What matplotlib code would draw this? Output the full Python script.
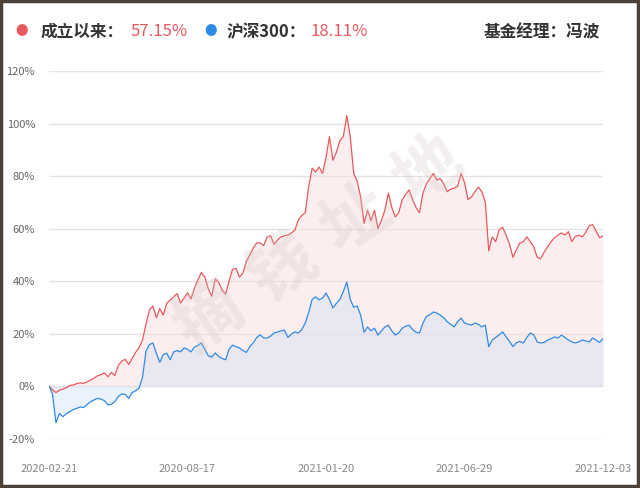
import matplotlib
matplotlib.use("Agg")
import matplotlib.pyplot as plt
from matplotlib.patches import Rectangle

plt.rcParams['font.family'] = ['Noto Sans CJK SC', 'DejaVu Sans']

# x-axis labels (category axis, shown at every 40th point)
tick_labels = ['2020-02-21', '2020-08-17', '2021-01-20', '2021-06-29', '2021-12-03']

# cumulative return of the fund since inception (%)
fund = [0, -1.5, -2.5, -1.6, -1.2, -0.6, 0.2, 0.4, 0.9, 1.2,
        1.0, 1.6, 2.3, 3.0, 3.9, 4.3, 5.0, 3.5, 5.2, 4.0,
        7.8, 9.5, 10.2, 8.2, 10.5, 12.8, 14.6, 17.5, 23.5, 29,
        30.5, 26, 29.5, 27, 31.5, 32.8, 34, 35.2, 31.6, 33.5,
        35.5, 33.2, 37.2, 40.5, 43.2, 41.5, 37, 34.2, 40.8, 39.5,
        36.5, 35, 40, 44.5, 44.8, 41.5, 43, 47.5, 50, 52.6,
        54.5, 54.5, 53.5, 56.8, 57.2, 54, 55.6, 56.8, 57.2, 57.5,
        58.3, 59.4, 63.2, 65, 66, 76, 83, 81.5, 83.4, 81,
        87, 95, 86, 89, 93.5, 95, 103, 95, 81, 78,
        72, 62, 67, 63, 67, 60, 63, 67, 73.5, 68,
        64.4, 66, 71, 73, 74.7, 71, 68, 66, 73.5, 77,
        79, 81, 78.5, 79, 77, 74, 75, 75.4, 76, 81,
        77.5, 71, 72, 74, 75.8, 74, 70, 51.5, 56.8, 55,
        59.5, 60.5, 57.5, 54, 49, 52, 54.5, 55, 56.8, 55,
        53, 49, 48.5, 51, 53, 55, 56.5, 57.5, 58.3, 57.5,
        58.8, 55, 57, 57.5, 56.8, 58.5, 61, 61.5, 59, 56.5,
        57.15]

# CSI 300 over the same period (%)
hs300 = [0, -3, -14, -10.5, -11.7, -10.5, -9.8, -9, -8.5, -8,
         -8.2, -7, -6, -5.3, -4.7, -5, -5.6, -7.2, -7, -6,
         -4, -3, -3.2, -4.7, -2.5, -1.8, -0.8, 3.4, 13.2, 15.8,
         16.4, 12.5, 9, 12, 12.5, 10, 13, 13.5, 13, 14.5,
         14, 13, 14.8, 15.5, 16.4, 14, 11.5, 11, 12.6, 11.2,
         10.5, 10, 14, 15.6, 15, 14.5, 13.5, 12.8, 15, 16.5,
         18.5, 19.5, 18.3, 18.3, 19, 20.2, 20.6, 21, 21.3, 18.5,
         19.8, 20.6, 20.2, 21.5, 24, 28, 33, 34, 32.8, 33.5,
         35.4, 33, 29.7, 31.5, 33, 36, 39.6, 33, 30, 30.5,
         27, 20.5, 22.5, 21, 22, 19.4, 21, 22.5, 23.2, 21,
         19.4, 20.2, 22, 22.8, 23.2, 21.5, 20.5, 20.2, 24, 26.5,
         27.2, 28.2, 27.8, 27, 26, 24.5, 23.5, 22.5, 24.5, 25.9,
         24, 23.5, 23.2, 24, 23.5, 22.5, 23.2, 15, 17.5, 18.5,
         19.5, 20.6, 18.8, 17, 15, 16.5, 17, 16.4, 18.5, 20.2,
         19.5, 16.8, 16.4, 16.6, 17.5, 18, 18.7, 18.3, 19.4, 18.5,
         17.5, 16.8, 16.4, 16.8, 17.5, 17.2, 16.8, 18.3, 17.5, 16.6,
         18.11]

red = '#e8595d'
blue = '#2f8ae5'

fig = plt.figure(figsize=(6.4, 4.88), dpi=100)
ax = fig.add_axes([0.0766, 0.1014, 0.8656, 0.7531])

x = list(range(len(fund)))
ax.fill_between(x, fund, 0, color='#fbe0e0', alpha=0.55, lw=0)
ax.fill_between(x, hs300, 0, color='#cfe0f7', alpha=0.42, lw=0)
ax.plot(x, fund, color=red, lw=0.9)
ax.plot(x, hs300, color=blue, lw=0.9)

ax.set_xlim(0, len(fund) - 1)
ax.set_ylim(-20, 120)
ax.set_yticks(range(-20, 121, 20))
ax.set_yticklabels([f'{v}%' for v in range(-20, 121, 20)])
ax.set_xticks(range(0, len(fund), 40))
ax.set_xticklabels(tick_labels)
ax.tick_params(axis='y', length=0, pad=10, labelsize=8, labelcolor='#666666')
ax.tick_params(axis='x', length=0, pad=18, labelsize=8, labelcolor='#888888')
ax.grid(axis='y', color='#e3e3e3', lw=1)
ax.set_axisbelow(True)
for s in ax.spines.values():
    s.set_visible(False)

# watermark, one glyph at a time along a slanted line
for k, ch in enumerate('摘钱址地'):
    px = 210 + 73 * k
    py = 318 - 49 * k
    fig.text(px / 640, 1 - py / 488, ch, fontsize=48, color='#cfc2c2', alpha=0.25,
             rotation=34, ha='center', va='center', fontweight='bold')

# header legend
fig.text(22 / 640, 1 - 32 / 488, '●', color=red, fontsize=9, va='center', ha='center')
fig.text(41 / 640, 1 - 32 / 488, '成立以来：', color='#333333', fontsize=12,
         fontweight='bold', va='center')
fig.text(131 / 640, 1 - 32 / 488, '57.15%', color=red, fontsize=12, va='center')
fig.text(211 / 640, 1 - 32 / 488, '●', color=blue, fontsize=9, va='center', ha='center')
fig.text(227 / 640, 1 - 32 / 488, '沪深300：', color='#333333', fontsize=12,
         fontweight='bold', va='center')
fig.text(310 / 640, 1 - 32 / 488, '18.11%', color=red, fontsize=12, va='center')
fig.text(600 / 640, 1 - 32 / 488, '基金经理：冯波', color='#333333', fontsize=12,
         fontweight='bold', va='center', ha='right')

# dark frame round the picture
fig.patches.append(Rectangle((0.002, 0.004), 0.995, 0.994, transform=fig.transFigure,
                             fill=False, edgecolor='#4a4139', lw=2.5))

fig.savefig('out.png', dpi=100)
